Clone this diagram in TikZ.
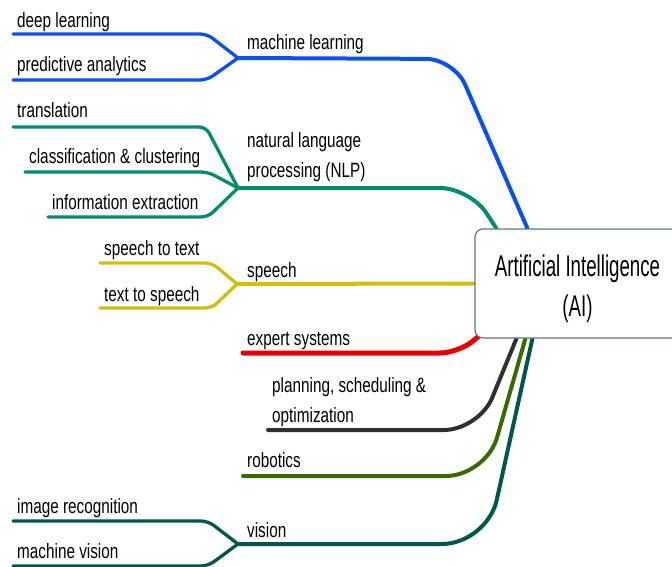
\documentclass[tikz,border=0pt]{standalone}
\usepackage{fontspec}
\setmainfont{Liberation Sans}
\usepackage{graphicx}
\usetikzlibrary{backgrounds}

\definecolor{mlblue}{HTML}{0A50F0}
\definecolor{nlpteal}{HTML}{008C6E}
\definecolor{speechyel}{HTML}{D2BE10}
\definecolor{expred}{HTML}{E60000}
\definecolor{plangray}{HTML}{303030}
\definecolor{robgreen}{HTML}{386A00}
\definecolor{visteal}{HTML}{00574A}
\definecolor{boxedge}{HTML}{607878}

\newcommand{\tall}[1]{\scalebox{1}[1.35]{#1}}
\newcommand{\tallc}[1]{\scalebox{1}[1.6]{#1}}

\tikzstyle{topic}=[anchor=base west,inner sep=0pt,align=left,font=\fontsize{15.3}{30}\selectfont]
\tikzstyle{twig}=[line width=3.3pt,line cap=round,rounded corners=7pt]
\tikzstyle{bough}=[line width=4pt,line cap=round]

\begin{document}
\begin{tikzpicture}[x=1pt,y=1pt]
    \useasboundingbox (0,0) rectangle (672,-567);

    \node[draw=boxedge,line width=1.2pt,fill=white,rounded corners=8pt,minimum width=205pt,minimum height=109pt,text height=72pt,align=center,font=\fontsize{18.7}{40}\selectfont] (ai) at (577.5,-283.5) {\tallc{Artificial Intelligence}\\\tallc{(AI)}};

    % main topics (two-line ones sit on their last line)
    \node[topic] (ml) at (247,-50) {\tall{machine learning}};
    \node[topic] (nlp) at (247,-178) {\tall{natural language}\\\tall{processing (NLP)}};
    \node[topic] (sp) at (247,-277) {\tall{speech}};
    \node[topic] (es) at (247,-345) {\tall{expert systems}};
    \node[topic] (pso) at (272,-422) {\tall{planning, scheduling \&}\\\tall{optimization}};
    \node[topic] (rob) at (247,-467) {\tall{robotics}};
    \node[topic] (vis) at (247,-537) {\tall{vision}};

    % sub topics
    \node[topic] (dl) at (17,-28) {\tall{deep learning}};
    \node[topic] (pa) at (17,-72) {\tall{predictive analytics}};
    \node[topic] (tr) at (17,-118) {\tall{translation}};
    \node[topic] (cc) at (29,-164) {\tall{classification \& clustering}};
    \node[topic] (ie) at (52,-209) {\tall{information extraction}};
    \node[topic] (stt) at (104,-255) {\tall{speech to text}};
    \node[topic] (tts) at (104,-301) {\tall{text to speech}};
    \node[topic] (ir) at (17,-513) {\tall{image recognition}};
    \node[topic] (mv) at (17,-558) {\tall{machine vision}};

    % junctions and free ends
    \coordinate (mlj) at (238,-58);
    \coordinate (nlpj) at (238,-188);
    \coordinate (spj) at (237,-284);
    \coordinate (esend) at (243,-353);
    \coordinate (psoend) at (268,-430);
    \coordinate (robend) at (243,-476);
    \coordinate (visj) at (238,-544);
    \coordinate (dlend) at (13,-34);
    \coordinate (paend) at (13,-80);
    \coordinate (trend) at (13,-127);
    \coordinate (ccend) at (25,-172);
    \coordinate (ieend) at (48,-217);
    \coordinate (sttend) at (100,-263);
    \coordinate (ttsend) at (100,-308);
    \coordinate (irend) at (13,-521);
    \coordinate (mvend) at (13,-566);

    \begin{scope}[on background layer]
    \draw[bough,mlblue,rounded corners=28pt] ([xshift=53pt]ai.north west) -- (454,-59) -- (mlj);
    \draw[bough,nlpteal,rounded corners=30pt] ([xshift=22pt]ai.north west) -- (470,-188) -- (nlpj);
    \draw[bough,speechyel] (ai.west) -- (spj);
    \draw[bough,expred,line width=5pt,rounded corners=18pt] ([xshift=4pt,yshift=2pt]ai.south west) -- (458,-353) -- (esend);
    \draw[bough,plangray,rounded corners=35pt] ([xshift=42pt]ai.south west) -- (479,-430) -- (psoend);
    \draw[bough,robgreen,rounded corners=40pt] ([xshift=51pt]ai.south west) -- (486,-476) -- (robend);
    \draw[bough,visteal,rounded corners=45pt] ([xshift=58pt]ai.south west) -- (487,-544) -- (visj);

    \draw[twig,mlblue] (dlend) -- ++(194,0) -- (mlj);
    \draw[twig,mlblue] (paend) -- ++(194,0) -- (mlj);
    \draw[twig,nlpteal] (trend) -- ++(193,0) -- (nlpj);
    \draw[twig,nlpteal] (ccend) -- ++(183,0) -- (nlpj);
    \draw[twig,nlpteal] (ieend) -- ++(160,0) -- (nlpj);
    \draw[twig,speechyel] (sttend) -- ++(112,0) -- (spj);
    \draw[twig,speechyel] (ttsend) -- ++(112,0) -- (spj);
    \draw[twig,visteal] (irend) -- ++(195,0) -- (visj);
    \draw[twig,visteal] (mvend) -- ++(195,0) -- (visj);
    \end{scope}
\end{tikzpicture}
\end{document}
